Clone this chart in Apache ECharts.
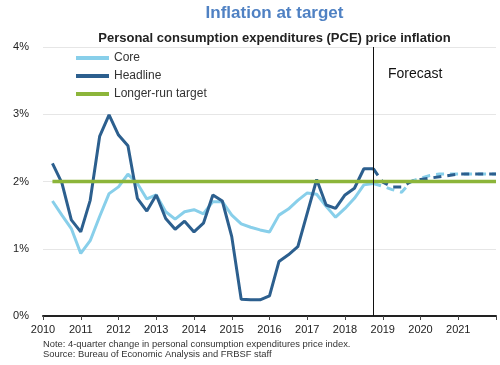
<!DOCTYPE html>
<html>
<head>
<meta charset="utf-8">
<script src="https://cdn.jsdelivr.net/npm/echarts@6/dist/echarts.min.js"></script>
<style>html,body{margin:0;padding:0;background:#fff}#c{width:500px;height:365px}</style>
</head>
<body>
<div id="c"></div>
<script>
// Quarterly x positions (decimal years)
var actualStart = 2010.25;
var coreActual = [1.71, 1.50, 1.30, 0.93, 1.12, 1.48, 1.82, 1.92, 2.11, 1.97, 1.74, 1.80,
  1.55, 1.44, 1.55, 1.58, 1.52, 1.70, 1.70, 1.50, 1.37, 1.32, 1.28, 1.25,
  1.50, 1.59, 1.72, 1.83, 1.81, 1.63, 1.47, 1.60, 1.75, 1.95, 1.97];
var headlineActual = [2.27, 1.98, 1.43, 1.25, 1.72, 2.67, 2.99, 2.69, 2.53, 1.75, 1.56, 1.80,
  1.45, 1.29, 1.41, 1.25, 1.38, 1.80, 1.71, 1.18, 0.25, 0.24, 0.24, 0.30,
  0.81, 0.91, 1.03, 1.53, 2.03, 1.65, 1.60, 1.80, 1.90, 2.19, 2.19];
var forecastStart = 2018.75;
var coreForecast = [1.97, 1.93, 1.88, 1.84, 2.00, 2.05, 2.09, 2.11, 2.11, 2.11, 2.11, 2.11, 2.11, 2.11];
var headlineForecast = [2.19, 1.99, 1.92, 1.92, 2.00, 2.03, 2.05, 2.07, 2.09, 2.11, 2.11, 2.11, 2.11, 2.11];
var targetRange = [2010.25, 2022];
var targetValue = 2.0;
var forecastLineX = 2018.75;
var xMin = 2010, xMax = 2022;
var yTicks = [0, 1, 2, 3, 4];

function toPairs(start, arr) {
  return arr.map(function (v, i) { return [start + i * 0.25, v]; });
}

var FONT = 'Liberation Sans, Arial, sans-serif';
var cCore = '#88cfea', cHead = '#2c5f8e', cTarget = '#8cb53a';

var chart = echarts.init(document.getElementById('c'), null, {renderer: 'canvas'});
chart.setOption({
  animation: false,
  backgroundColor: '#fff',
  textStyle: {fontFamily: FONT},
  title: [
    {text: 'Inflation at target', left: 269.5, textAlign: 'center', top: 0,
     textStyle: {fontFamily: FONT, fontSize: 17, fontWeight: 'bold', color: '#4f81c3'}},
    {text: 'Personal consumption expenditures (PCE) price inflation', left: 269.5, textAlign: 'center', top: 27,
     textStyle: {fontFamily: FONT, fontSize: 13, fontWeight: 'bold', color: '#222'}}
  ],
  grid: {left: 43, right: 4, top: 47, bottom: 49, containLabel: false},
  legend: {
    orient: 'vertical', left: 71, top: 47, itemWidth: 33, itemHeight: 4, itemGap: 6,
    icon: 'rect',
    textStyle: {fontFamily: FONT, fontSize: 12, color: '#333'},
    data: ['Core', 'Headline', 'Longer-run target']
  },
  xAxis: {
    type: 'value', min: xMin, max: xMax, interval: 1,
    axisLine: {show: true, lineStyle: {color: '#222', width: 2}},
    axisTick: {show: true, length: 4, lineStyle: {color: '#444', width: 1}},
    axisLabel: {margin: 8, fontFamily: FONT, fontSize: 11, color: '#222',
      formatter: function (v) { return v >= xMax ? '' : String(v); }},
    splitLine: {show: false}
  },
  yAxis: {
    type: 'value', min: yTicks[0], max: yTicks[yTicks.length - 1], interval: 1,
    axisLine: {show: false}, axisTick: {show: false},
    axisLabel: {margin: 14, fontFamily: FONT, fontSize: 11, color: '#222', formatter: '{value}%'},
    splitLine: {lineStyle: {color: '#e6e6e6', width: 1}}
  },
  series: [
    {name: 'Core', type: 'line', data: toPairs(actualStart, coreActual), showSymbol: false,
     lineStyle: {color: cCore, width: 3}, itemStyle: {color: cCore}, z: 2,
     markLine: {silent: true, symbol: 'none', label: {show: false},
       lineStyle: {color: '#111', width: 1, type: 'solid'}, data: [{xAxis: forecastLineX}]}},
    {name: 'Core', type: 'line', data: toPairs(forecastStart, coreForecast), showSymbol: false,
     lineStyle: {color: cCore, width: 3, type: [8, 6]}, itemStyle: {color: cCore}, z: 2},
    {name: 'Headline', type: 'line', data: toPairs(actualStart, headlineActual), showSymbol: false,
     lineStyle: {color: cHead, width: 3}, itemStyle: {color: cHead}, z: 3},
    {name: 'Headline', type: 'line', data: toPairs(forecastStart, headlineForecast), showSymbol: false,
     lineStyle: {color: cHead, width: 3, type: [8, 6]}, itemStyle: {color: cHead}, z: 3},
    {name: 'Longer-run target', type: 'line', data: [[targetRange[0], targetValue], [targetRange[1], targetValue]],
     showSymbol: false, lineStyle: {color: cTarget, width: 3.5}, itemStyle: {color: cTarget}, z: 4}
  ],
  graphic: [
    {type: 'text', left: 388, top: 67, style: {text: 'Forecast', font: '14px ' + FONT, fill: '#111'}},
    {type: 'text', left: 43, top: 339, style: {text: 'Note: 4-quarter change in personal consumption expenditures price index.\nSource: Bureau of Economic Analysis and FRBSF staff', font: '9.4px ' + FONT, fill: '#333', lineHeight: 10}}
  ]
});
</script>
</body>
</html>
